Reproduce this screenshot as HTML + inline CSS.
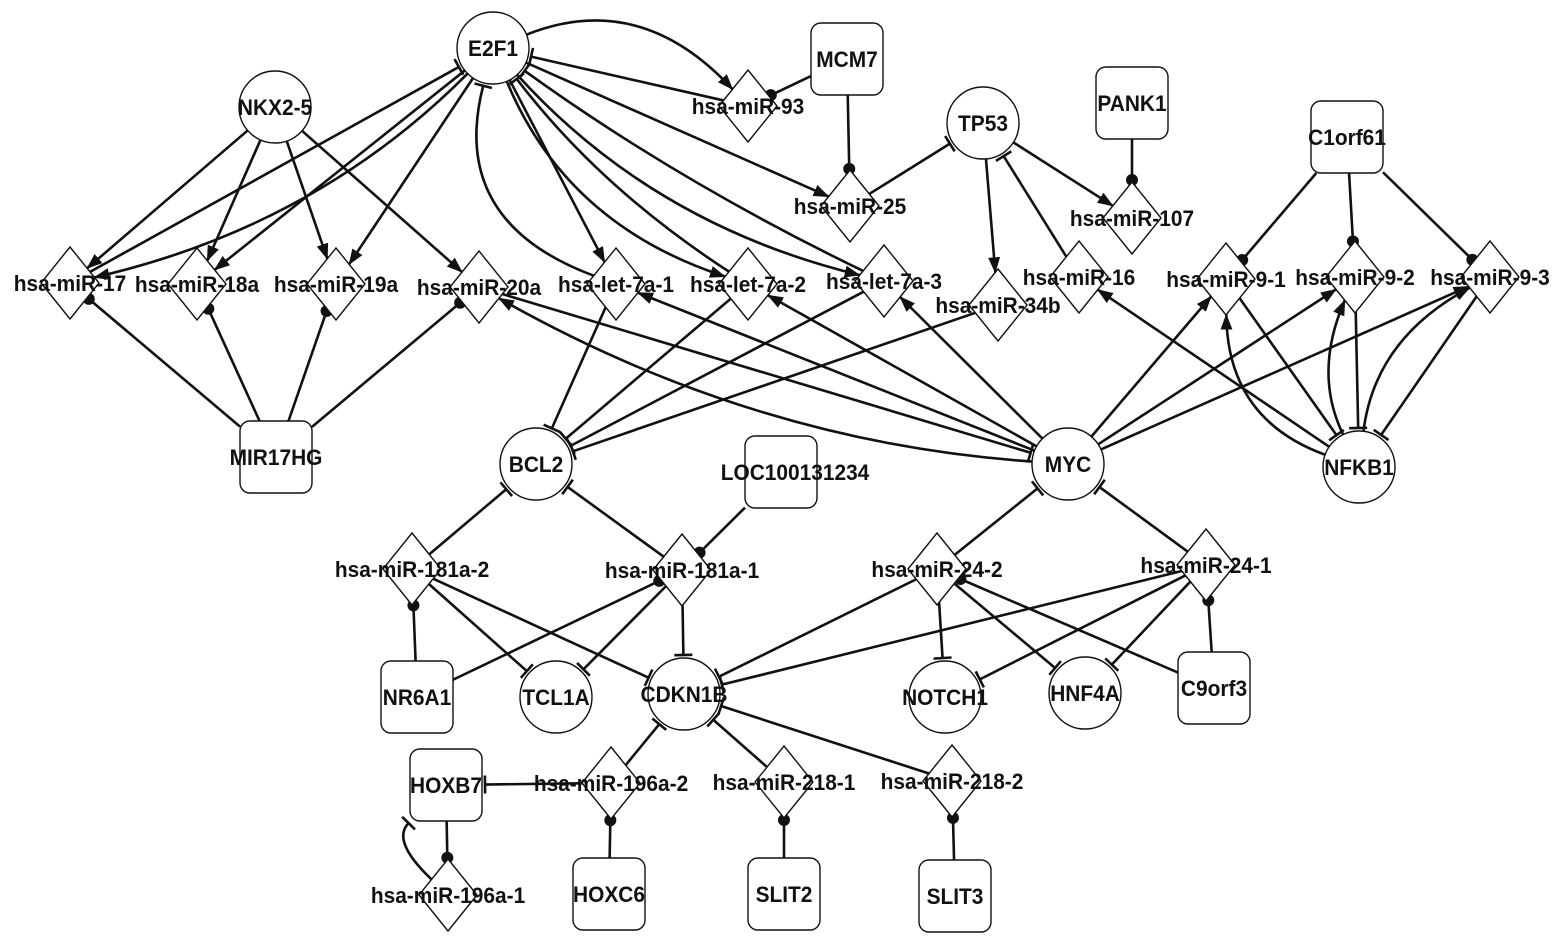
<!DOCTYPE html>
<html><head><meta charset="utf-8"><style>
html,body{margin:0;padding:0;background:#fff}
svg{display:block}
text{font-family:"Liberation Sans",Arial,sans-serif;font-weight:bold;font-size:22px;fill:#111}
</style></head><body>
<svg id="s" width="1559" height="946" viewBox="0 0 1559 946" xmlns="http://www.w3.org/2000/svg">
<defs>
<marker id="ar" markerWidth="16" markerHeight="12" refX="15" refY="6" orient="auto" markerUnits="userSpaceOnUse"><path d="M0,0 L16,6 L0,12 Z" fill="#111"/></marker>
</defs>
<g id="E"></g><g id="N"></g><g id="L"></g>
</svg>
<script>
var N={
'E2F1':['c',493,48],'NKX2-5':['c',275,107],'TP53':['c',983,123],'BCL2':['c',536,464],'MYC':['c',1068,464],'NFKB1':['c',1359,467],
'TCL1A':['c',556,697],'CDKN1B':['c',684,694],'NOTCH1':['c',945,697],'HNF4A':['c',1085,693],
'MCM7':['r',847,59],'PANK1':['r',1132,103],'C1orf61':['r',1347,137],'MIR17HG':['r',276,457],'LOC100131234':['r',781,472],
'NR6A1':['r',417,697],'C9orf3':['r',1214,688],'HOXB7':['r',446,785],'HOXC6':['r',609,894],'SLIT2':['r',784,894],'SLIT3':['r',955,896],
'hsa-miR-93':['d',748,106],'hsa-miR-25':['d',850,206],'hsa-miR-107':['d',1132,218],'hsa-miR-17':['d',70,283],'hsa-miR-18a':['d',197,284],
'hsa-miR-19a':['d',336,284],'hsa-miR-20a':['d',479,287],'hsa-let-7a-1':['d',616,284],'hsa-let-7a-2':['d',748,284],'hsa-let-7a-3':['d',884,281],
'hsa-miR-34b':['d',998,305],'hsa-miR-16':['d',1079,277],'hsa-miR-9-1':['d',1226,279],'hsa-miR-9-2':['d',1355,277],'hsa-miR-9-3':['d',1490,277],
'hsa-miR-181a-2':['d',412,569],'hsa-miR-181a-1':['d',682,570],'hsa-miR-24-2':['d',937,569],'hsa-miR-24-1':['d',1206,565],
'hsa-miR-196a-2':['d',611,783],'hsa-miR-218-1':['d',784,782],'hsa-miR-218-2':['d',952,781],'hsa-miR-196a-1':['d',448,895]
};
var LOFF={'LOC100131234':[14,0]};
var E=[
['E2F1','hsa-miR-93','a',-45],['hsa-miR-93','E2F1','t',0],['MCM7','hsa-miR-93','d',0],['MCM7','hsa-miR-25','d',0],
['E2F1','hsa-miR-25','a',0],['hsa-miR-25','TP53','t',0],
['hsa-miR-17','E2F1','t',0],['E2F1','hsa-miR-17','a',-35],['E2F1','hsa-miR-18a','a',0],['E2F1','hsa-miR-19a','a',0],
['E2F1','hsa-let-7a-1','a',0],['hsa-let-7a-1','E2F1','t',-60],['E2F1','hsa-let-7a-2','a',40],['hsa-let-7a-2','E2F1','t',-15],
['E2F1','hsa-let-7a-3','a',35],['hsa-let-7a-3','E2F1','t',-10],
['NKX2-5','hsa-miR-17','a',0],['NKX2-5','hsa-miR-18a','a',0],['NKX2-5','hsa-miR-19a','a',0],['NKX2-5','hsa-miR-20a','a',0],
['MIR17HG','hsa-miR-17','d',0],['MIR17HG','hsa-miR-18a','d',0],['MIR17HG','hsa-miR-19a','d',0],['MIR17HG','hsa-miR-20a','d',0],
['TP53','hsa-miR-107','a',0],['PANK1','hsa-miR-107','d',0],['TP53','hsa-miR-34b','a',0],['hsa-miR-16','TP53','t',0],
['C1orf61','hsa-miR-9-1','d',0],['C1orf61','hsa-miR-9-2','d',0],['C1orf61','hsa-miR-9-3','d',0],
['hsa-let-7a-1','BCL2','t',0],['hsa-let-7a-2','BCL2','t',0],['hsa-let-7a-3','BCL2','t',0],['hsa-miR-34b','BCL2','t',0],
['MYC','hsa-miR-20a','a',-35],['hsa-miR-20a','MYC','t',0],['MYC','hsa-let-7a-1','a',0],['MYC','hsa-let-7a-2','a',0],['MYC','hsa-let-7a-3','a',0],
['MYC','hsa-miR-9-1','a',0],['MYC','hsa-miR-9-2','a',0],['MYC','hsa-miR-9-3','a',0],['NFKB1','hsa-miR-16','a',0],
['hsa-miR-9-1','NFKB1','t',0],['hsa-miR-9-2','NFKB1','t',0],['hsa-miR-9-3','NFKB1','t',0],
['NFKB1','hsa-miR-9-1','a',-40],['NFKB1','hsa-miR-9-2','a',-22],['NFKB1','hsa-miR-9-3','a',-30],
['hsa-miR-181a-2','BCL2','t',0],['hsa-miR-181a-1','BCL2','t',0],['LOC100131234','hsa-miR-181a-1','d',0],
['hsa-miR-24-2','MYC','t',0],['hsa-miR-24-1','MYC','t',0],
['NR6A1','hsa-miR-181a-2','d',0],['NR6A1','hsa-miR-181a-1','d',0],
['hsa-miR-181a-2','TCL1A','t',0],['hsa-miR-181a-2','CDKN1B','t',0],['hsa-miR-181a-1','TCL1A','t',0],['hsa-miR-181a-1','CDKN1B','t',0],
['hsa-miR-24-2','CDKN1B','t',0],['hsa-miR-24-1','CDKN1B','t',0],['hsa-miR-24-2','NOTCH1','t',0],['hsa-miR-24-1','NOTCH1','t',0],
['hsa-miR-24-2','HNF4A','t',0],['hsa-miR-24-1','HNF4A','t',0],['C9orf3','hsa-miR-24-2','d',0],['C9orf3','hsa-miR-24-1','d',0],
['hsa-miR-196a-2','CDKN1B','t',0],['hsa-miR-218-1','CDKN1B','t',0],['hsa-miR-218-2','CDKN1B','t',0],
['hsa-miR-196a-2','HOXB7','t',0],['HOXC6','hsa-miR-196a-2','d',0],['SLIT2','hsa-miR-218-1','d',0],['SLIT3','hsa-miR-218-2','d',0],
['HOXB7','hsa-miR-196a-1','d',0],['hsa-miR-196a-1','HOXB7','t',-28]
];
function bnd(n,ux,uy){var t,ax=Math.abs(ux),ay=Math.abs(uy);
 if(n[0]=='c')t=36;
 else if(n[0]=='r')t=Math.min(ax>1e-6?36/ax:1e9,ay>1e-6?36/ay:1e9);
 else t=1/(ax/29+ay/36);
 return [n[1]+ux*t,n[2]+uy*t];}
function unit(x,y){var l=Math.hypot(x,y);return [x/l,y/l];}
var eg='';
E.forEach(function(e){var A=N[e[0]],B=N[e[1]];var dx=B[1]-A[1],dy=B[2]-A[2],l=Math.hypot(dx,dy);
 var cx=(A[1]+B[1])/2+(-dy/l)*e[3]*2,cy=(A[2]+B[2])/2+(dx/l)*e[3]*2;
 var u1=unit(cx-A[1],cy-A[2]),u2=unit(cx-B[1],cy-B[2]);
 var p1=bnd(A,u1[0],u1[1]),p2=bnd(B,u2[0],u2[1]);
 var ex=p2[0],ey=p2[1],d=[-u2[0],-u2[1]];
 if(e[2]=='t'){ex=p2[0]+u2[0]*3;ey=p2[1]+u2[1]*3;}
 var path=e[3]?('M'+p1[0]+','+p1[1]+' Q'+cx+','+cy+' '+ex+','+ey):('M'+p1[0]+','+p1[1]+' L'+ex+','+ey);
 eg+='<path d="'+path+'" fill="none" stroke="#111" stroke-width="2.6"'+(e[2]=='a'?' marker-end="url(#ar)"':'')+'/>';
 if(e[2]=='t'){var px=-d[1],py=d[0];eg+='<line x1="'+(ex+px*9)+'" y1="'+(ey+py*9)+'" x2="'+(ex-px*9)+'" y2="'+(ey-py*9)+'" stroke="#111" stroke-width="2.6"/>';}
 if(e[2]=='d'){eg+='<circle cx="'+(p2[0]+u2[0]*2)+'" cy="'+(p2[1]+u2[1]*2)+'" r="6" fill="#111"/>';}
});
var ng='',lg='';
for(var k in N){var n=N[k];
 if(n[0]=='c')ng+='<ellipse cx="'+n[1]+'" cy="'+n[2]+'" rx="36" ry="36" fill="#fff" stroke="#111" stroke-width="1.4"/>';
 else if(n[0]=='r')ng+='<rect x="'+(n[1]-36)+'" y="'+(n[2]-36)+'" width="72" height="72" rx="10" fill="#fff" stroke="#111" stroke-width="1.4"/>';
 else ng+='<path d="M'+n[1]+','+(n[2]-36)+' L'+(n[1]+29)+','+n[2]+' L'+n[1]+','+(n[2]+36)+' L'+(n[1]-29)+','+n[2]+' Z" fill="#fff" stroke="#111" stroke-width="1.4"/>';
 var o=LOFF[k]||[0,0];
 lg+='<text text-anchor="middle" transform="translate('+(n[1]+o[0])+','+(n[2]+8+o[1])+') scale(0.95,1)">'+k+'</text>';
}
document.getElementById('E').innerHTML=eg;
document.getElementById('N').innerHTML=ng;
document.getElementById('L').innerHTML=lg;
</script>
</body></html>
